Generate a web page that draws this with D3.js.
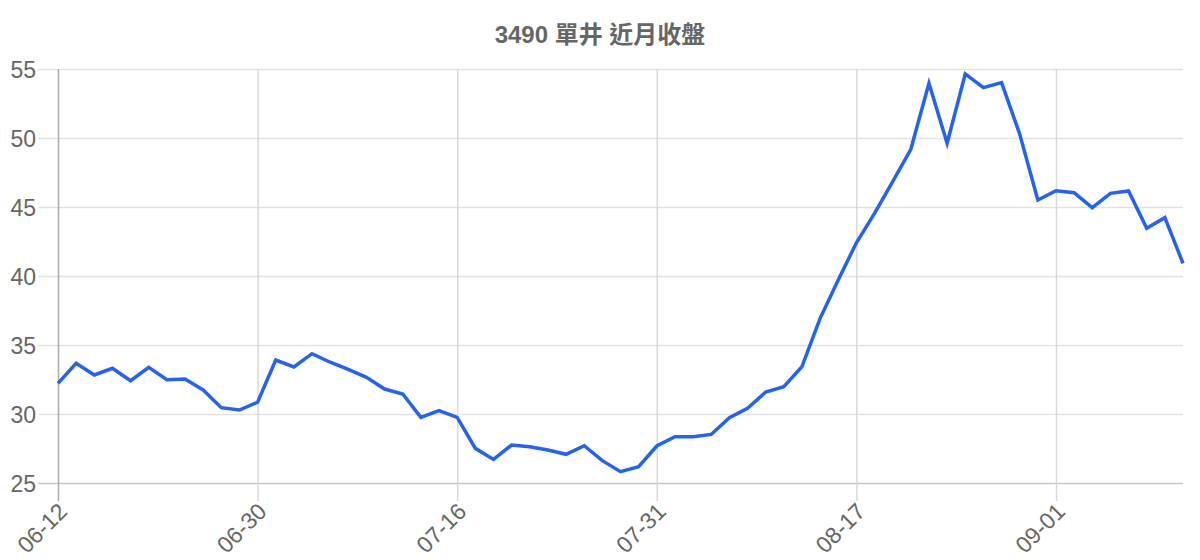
<!DOCTYPE html>
<html><head><meta charset="utf-8">
<script src="https://cdn.jsdelivr.net/npm/d3@7"></script>
<style>body{margin:0;background:#fff}svg{display:block}</style>
</head><body>
<svg id="c" width="1200" height="560"></svg>
<script>
const title = "3490 單井 近月收盤";
const dates = ["06-12","06-13","06-16","06-17","06-18","06-19","06-20","06-23","06-24","06-25","06-27",
"06-30","07-01","07-02","07-03","07-04","07-07","07-08","07-09","07-10","07-11","07-14",
"07-16","07-17","07-18","07-21","07-22","07-23","07-24","07-25","07-28","07-29","07-30",
"07-31","08-01","08-04","08-05","08-06","08-07","08-08","08-11","08-12","08-13","08-14",
"08-17","08-18","08-19","08-20","08-21","08-22","08-25","08-26","08-27","08-28","08-29",
"09-01","09-02","09-03","09-04","09-05","09-08","09-09","09-10"];
const closes = [32.22,33.67,32.83,33.31,32.41,33.38,32.49,32.54,31.74,30.46,30.29,
30.85,33.91,33.41,34.37,33.75,33.24,32.66,31.81,31.45,29.76,30.24,
29.76,27.51,26.71,27.75,27.63,27.39,27.08,27.70,26.62,25.82,26.18,
27.68,28.36,28.36,28.52,29.73,30.41,31.59,31.98,33.43,36.93,39.71,
42.41,44.54,46.83,49.18,53.96,49.62,54.64,53.65,54.01,50.29,45.51,
46.18,46.04,44.95,45.99,46.16,43.46,44.23,40.92];
const tickLabels = ["06-12","06-30","07-16","07-31","08-17","09-01"];
const yTicks = [25,30,35,40,45,50,55];

const svg = d3.select("#c");
const m = {l:58, r:17, t:69, b:77};
const W = 1200, H = 560;
const ph = H - m.b - m.t;
const x = d3.scalePoint().domain(dates).range([m.l, W - m.r]);
const y = d3.scaleLinear().domain([25,55]).range([H - m.b, m.t]);
const font = "'Liberation Sans', Arial, 'Noto Sans CJK TC', sans-serif";

svg.append("text").attr("x", 600).attr("y", 43).attr("text-anchor","middle")
  .attr("font-family", font).attr("font-weight","bold").attr("font-size", 24)
  .attr("fill","#666").text(title);

// horizontal grid
const yAxis = d3.axisLeft(y).tickValues(yTicks).tickSize(-(W - m.r - m.l)).tickSizeOuter(0);
const gy = svg.append("g").attr("transform", `translate(${m.l},0)`).call(yAxis);
gy.select(".domain").remove();
gy.selectAll(".tick line").attr("stroke","#e2e2e2").attr("stroke-width",1.5).attr("x1", -20);
gy.selectAll(".tick").filter(d => d === 25).select("line").attr("stroke","#c8c8c8");
gy.selectAll(".tick text").attr("font-family", font).attr("font-size", 23).attr("fill","#666")
  .attr("x",-22).attr("dy","0.35em");

// vertical grid
const xAxis = d3.axisBottom(x).tickValues(tickLabels).tickSizeOuter(0);
const gx = svg.append("g").attr("transform", `translate(0,${H - m.b})`).call(xAxis);
gx.select(".domain").remove();
gx.selectAll(".tick line").attr("stroke","#d8d8d8").attr("stroke-width",1.5).attr("y1", -ph).attr("y2", 18);
gx.selectAll(".tick").filter(d => d === "06-12").select("line").attr("stroke","#aaaaaa");
gx.selectAll(".tick text").attr("font-family", font).attr("font-size", 23).attr("fill","#666")
  .attr("text-anchor","end").attr("dy",0).attr("y",0)
  .attr("transform","translate(10,30) rotate(-45)");

const line = d3.line().x((d,i) => x(dates[i])).y(d => y(d));
svg.append("path").datum(closes).attr("d", line).attr("fill","none")
  .attr("stroke","#2563eb").attr("stroke-width",3.5).attr("stroke-linejoin","miter");
</script>
</body></html>
